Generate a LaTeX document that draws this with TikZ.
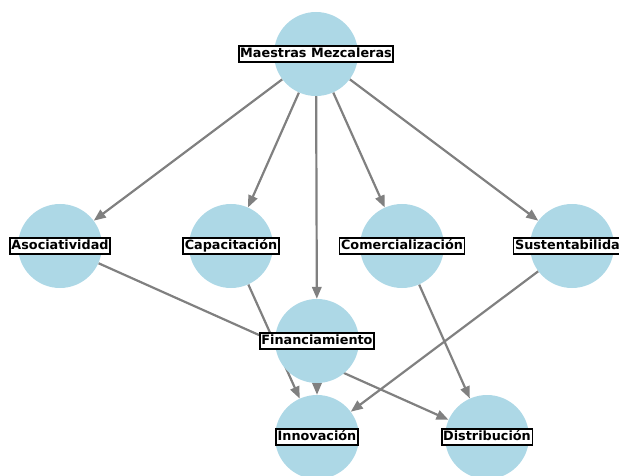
\documentclass[tikz,border=0pt]{standalone}
\usepackage{fontspec}
\setmainfont{DejaVu Sans}
\usetikzlibrary{arrows.meta,backgrounds}
\definecolor{nodeblue}{HTML}{ADD8E6}
\tikzset{
	topic/.style={circle,fill=nodeblue,minimum size=84pt,inner sep=0pt},
	tag/.style={draw=black,line width=1.8pt,fill=white,inner sep=1.6pt,
		font=\fontsize{12.8}{14}\selectfont\bfseries,text height=9.4pt,text depth=2.7pt},
	link/.style={draw=gray,line width=2.2pt,-{Triangle[length=12pt,width=9.5pt]}}
}
\begin{document}
\begin{tikzpicture}[x=1pt,y=-1pt]
	\clip (0,0) rectangle (619,476);
	%Top circle
		\node [topic] (maestras) at (316, 54) {};
	%Middle row
		\node [topic] (asoc) at (60, 246) {};
		\node [topic] (capac) at (231, 246) {};
		\node [topic] (comerc) at (402, 246) {};
		\node [topic] (susten) at (572, 246) {};
	%Financiamiento
		\node [topic] (financ) at (317, 341) {};
	%Bottom row
		\node [topic] (innov) at (317, 437) {};
		\node [topic] (distrib) at (487, 437) {};
	%Arrows, under the circles
	\begin{pgfonlayer}{background}
		%From Maestras Mezcaleras
		\draw [link] (maestras) -- (asoc);
		\draw [link] (maestras) -- (capac);
		\draw [link] (maestras) -- (financ);
		\draw [link] (maestras) -- (comerc);
		\draw [link] (maestras) -- (susten);
		%To Innovacion
		\draw [link] (capac) -- (innov);
		\draw [link] (financ) -- (innov);
		\draw [link] (susten) -- (innov);
		%To Distribucion
		\draw [link] (asoc) -- (distrib);
		\draw [link] (comerc) -- (distrib);
	\end{pgfonlayer}
	%Labels
		\node [tag] (maestras-l) at (maestras) {Maestras Mezcaleras};
		\node [tag] (asoc-l) at (asoc) {Asociatividad};
		\node [tag] (capac-l) at (capac) {Capacitación};
		\node [tag] (comerc-l) at (comerc) {Comercialización};
		\node [tag] (susten-l) at (susten) {Sustentabilidad};
		\node [tag] (financ-l) at (financ) {Financiamiento};
		\node [tag] (innov-l) at (innov) {Innovación};
		\node [tag] (distrib-l) at (distrib) {Distribución};
\end{tikzpicture}
\end{document}
